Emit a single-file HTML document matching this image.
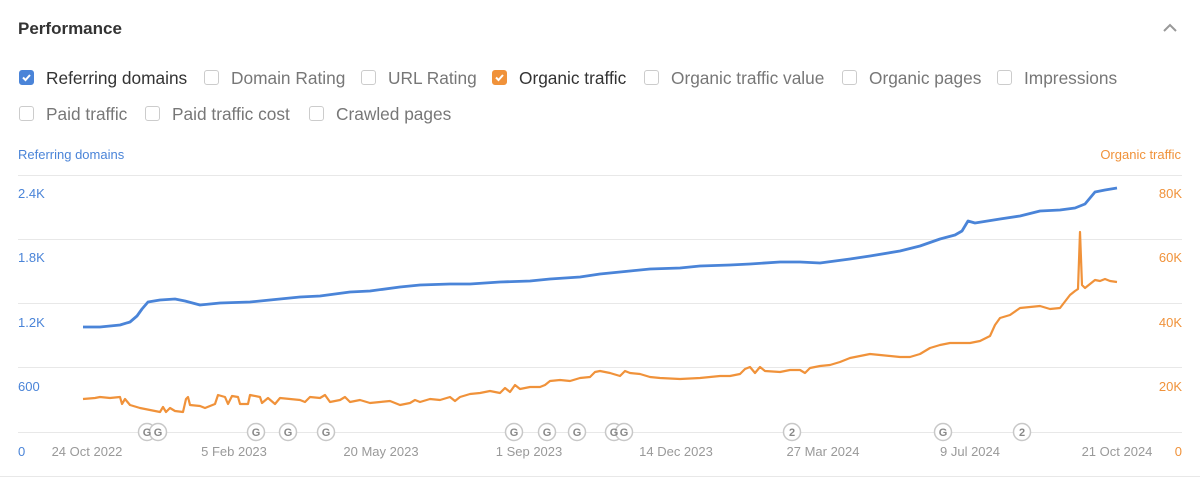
<!DOCTYPE html>
<html><head><meta charset="utf-8"><style>
body{margin:0;width:1200px;height:478px;background:#fff;font-family:"Liberation Sans",sans-serif;overflow:hidden;position:relative}
.t{position:absolute;white-space:nowrap}
.cb{position:absolute;width:15px;height:15px;border:1px solid #ccc;border-radius:3px;box-sizing:border-box}
.lbl{font-size:17.3px;color:#777}
</style></head><body>
<div class="t" style="left:18px;top:19px;font-size:17px;font-weight:bold;color:#333">Performance</div>
<svg style="position:absolute;left:1162px;top:22px" width="16" height="12"><path d="M2 9 L8 3 L14 9" stroke="#999" stroke-width="2" fill="none"/></svg>

<div class="cb" style="left:19px;top:70px;background:#4a84d8;border-color:#4a84d8"></div>
<svg style="position:absolute;left:19px;top:70px" width="15" height="15"><path d="M4 7.5 L6.5 10 L11 5" stroke="#fff" stroke-width="2" fill="none"/></svg>
<div class="t lbl" style="left:46px;top:68px;color:#333">Referring domains</div>
<div class="cb" style="left:204px;top:70px"></div><div class="t lbl" style="left:231px;top:68px">Domain Rating</div>
<div class="cb" style="left:361px;top:70px"></div><div class="t lbl" style="left:388px;top:68px">URL Rating</div>
<div class="cb" style="left:492px;top:70px;background:#f0923a;border-color:#f0923a"></div>
<svg style="position:absolute;left:492px;top:70px" width="15" height="15"><path d="M4 7.5 L6.5 10 L11 5" stroke="#fff" stroke-width="2" fill="none"/></svg>
<div class="t lbl" style="left:519px;top:68px;color:#333">Organic traffic</div>
<div class="cb" style="left:644px;top:70px"></div><div class="t lbl" style="left:671px;top:68px">Organic traffic value</div>
<div class="cb" style="left:842px;top:70px"></div><div class="t lbl" style="left:869px;top:68px">Organic pages</div>
<div class="cb" style="left:997px;top:70px"></div><div class="t lbl" style="left:1024px;top:68px">Impressions</div>
<div class="cb" style="left:19px;top:106px"></div><div class="t lbl" style="left:46px;top:104px">Paid traffic</div>
<div class="cb" style="left:145px;top:106px"></div><div class="t lbl" style="left:172px;top:104px">Paid traffic cost</div>
<div class="cb" style="left:309px;top:106px"></div><div class="t lbl" style="left:336px;top:104px">Crawled pages</div>

<div class="t" style="left:18px;top:147px;font-size:13px;color:#4a84d8">Referring domains</div>
<div class="t" style="right:19px;top:147px;font-size:13px;color:#f0923a">Organic traffic</div>

<svg style="position:absolute;left:0;top:0" width="1200" height="478">
<g stroke="#e8e8e8" stroke-width="1">
<line x1="18" x2="1182" y1="175.5" y2="175.5"/><line x1="18" x2="1182" y1="239.5" y2="239.5"/>
<line x1="18" x2="1182" y1="303.5" y2="303.5"/><line x1="18" x2="1182" y1="367.5" y2="367.5"/>
<line x1="18" x2="1182" y1="432.5" y2="432.5"/>
</g>
<line x1="0" x2="1200" y1="476.5" y2="476.5" stroke="#e8e8e8"/>
<g font-size="13" fill="#4a84d8" font-family="Liberation Sans">
<text x="18" y="198">2.4K</text><text x="18" y="262">1.8K</text><text x="18" y="327">1.2K</text><text x="18" y="391">600</text><text x="18" y="456">0</text>
</g>
<g font-size="13" fill="#f0923a" font-family="Liberation Sans" text-anchor="end">
<text x="1182" y="198">80K</text><text x="1182" y="262">60K</text><text x="1182" y="327">40K</text><text x="1182" y="391">20K</text><text x="1182" y="456">0</text>
</g>
<g font-size="13" fill="#999" font-family="Liberation Sans" text-anchor="middle">
<text x="87" y="456">24 Oct 2022</text><text x="234" y="456">5 Feb 2023</text><text x="381" y="456">20 May 2023</text>
<text x="529" y="456">1 Sep 2023</text><text x="676" y="456">14 Dec 2023</text><text x="823" y="456">27 Mar 2024</text>
<text x="970" y="456">9 Jul 2024</text><text x="1117" y="456">21 Oct 2024</text>
</g>
<polyline fill="none" stroke="#4a84d8" stroke-width="2.8" stroke-linejoin="round" points="83,327 100,327 110,326 120,325 130,322 137,316 142,309 148,302 160,300 175,299 185,301 200,305 220,303 250,302 270,300 300,297 320,296 350,292 370,291 400,287 420,285 450,284 470,284 500,282 530,281 550,279 580,277 600,274 630,271 650,269 680,268 700,266 730,265 750,264 780,262 800,262 820,263 850,259 870,256 900,251 920,246 940,239 955,235 962,231 968,221 975,223 1000,219 1020,216 1040,211 1060,210 1075,208 1085,204 1095,192 1105,190 1117,188"/>
<polyline fill="none" stroke="#f0923a" stroke-width="2.2" stroke-linejoin="round" points="83,399 95,398 100,397 110,398 120,397 122,404 125,399 130,405 140,408 150,410 160,412 163,407 166,412 170,408 175,411 183,412 186,399 188,397 190,405 200,406 205,408 215,404 218,395 225,397 228,404 232,396 238,397 240,404 248,404 250,395 260,397 262,403 268,398 275,404 280,398 290,399 300,400 305,402 310,397 320,398 325,395 330,402 340,400 345,397 350,402 360,400 370,403 380,402 390,401 400,405 410,403 415,400 420,402 430,399 440,400 450,397 455,401 460,397 470,394 480,393 490,391 500,393 505,388 510,392 515,385 520,389 530,387 540,387 545,385 550,381 560,380 570,381 580,378 590,377 595,372 600,371 610,373 620,376 625,371 630,373 640,374 650,377 660,378 680,379 700,378 710,377 720,376 730,376 740,374 745,369 750,367 755,373 760,367 765,371 780,372 790,370 800,370 805,373 810,368 820,366 830,365 840,362 850,358 860,356 870,354 880,355 900,357 910,357 920,354 930,348 940,345 950,343 960,343 970,343 980,341 990,336 995,325 1000,318 1010,315 1020,308 1030,307 1040,306 1050,309 1060,308 1070,295 1075,291 1078,289 1080,232 1082,285 1085,288 1095,280 1100,281 1105,279 1110,281 1117,282"/>
<g fill="#fff" stroke="#c8c8c8" stroke-width="1.5" font-size="11" font-family="Liberation Sans" text-anchor="middle">
<g><circle cx="147" cy="432" r="8.5"/><circle cx="158" cy="432" r="8.5"/><circle cx="256" cy="432" r="8.5"/><circle cx="288" cy="432" r="8.5"/><circle cx="326" cy="432" r="8.5"/><circle cx="514" cy="432" r="8.5"/><circle cx="547" cy="432" r="8.5"/><circle cx="577" cy="432" r="8.5"/><circle cx="614" cy="432" r="8.5"/><circle cx="624" cy="432" r="8.5"/><circle cx="792" cy="432" r="8.5"/><circle cx="943" cy="432" r="8.5"/><circle cx="1022" cy="432" r="8.5"/></g>
<g fill="#888" stroke="none" font-weight="bold">
<text x="147" y="436">G</text><text x="158" y="436">G</text><text x="256" y="436">G</text><text x="288" y="436">G</text><text x="326" y="436">G</text><text x="514" y="436">G</text><text x="547" y="436">G</text><text x="577" y="436">G</text><text x="614" y="436">G</text><text x="624" y="436">G</text><text x="792" y="436">2</text><text x="943" y="436">G</text><text x="1022" y="436">2</text>
</g></g>
</svg>
</body></html>
